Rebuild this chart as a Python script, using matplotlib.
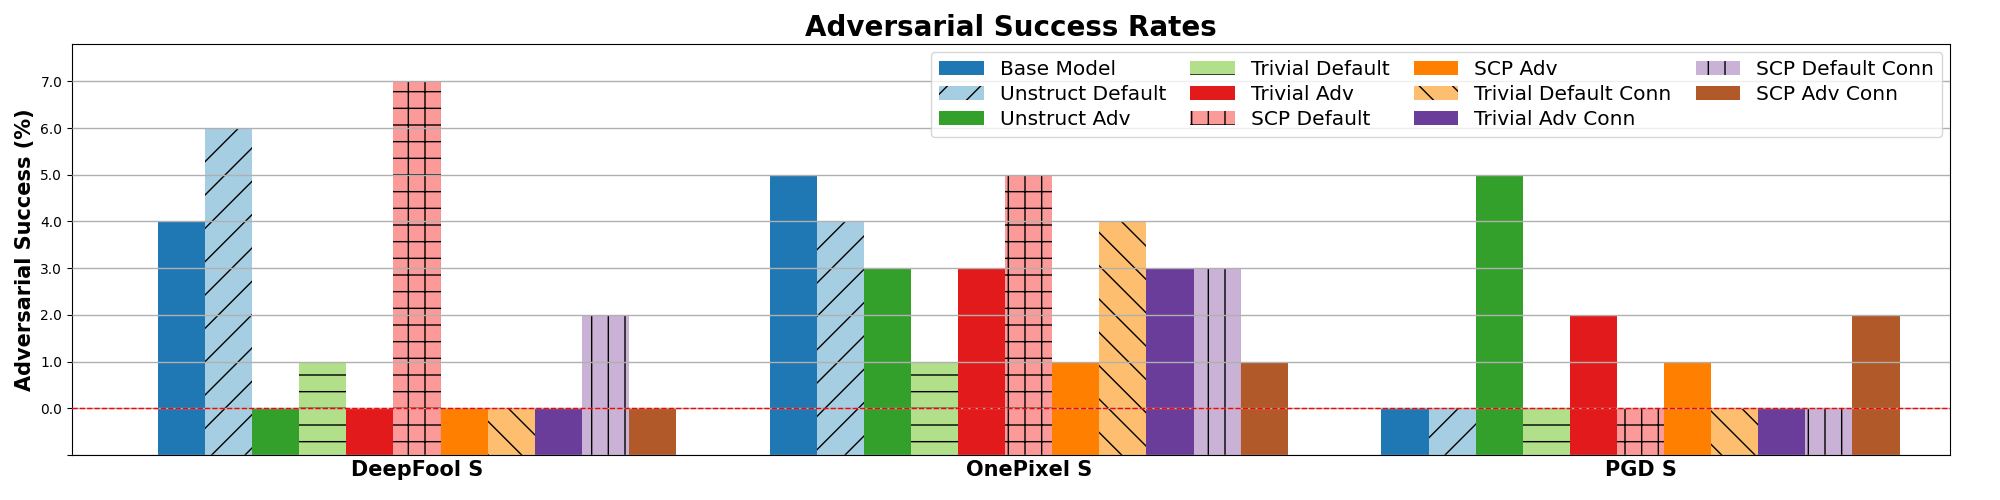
import matplotlib
matplotlib.use("Agg")
import matplotlib.pyplot as plt
import numpy as np

groups = ["DeepFool S", "OnePixel S", "PGD S"]
series = ["Base Model", "Unstruct Default", "Unstruct Adv", "Trivial Default", "Trivial Adv",
          "SCP Default", "SCP Adv", "Trivial Default Conn", "Trivial Adv Conn",
          "SCP Default Conn", "SCP Adv Conn"]
values = {
    "Base Model": [4, 5, 0],
    "Unstruct Default": [6, 4, 0],
    "Unstruct Adv": [0, 3, 5],
    "Trivial Default": [1, 1, 0],
    "Trivial Adv": [0, 3, 2],
    "SCP Default": [7, 5, 0],
    "SCP Adv": [0, 1, 1],
    "Trivial Default Conn": [0, 4, 0],
    "Trivial Adv Conn": [0, 3, 0],
    "SCP Default Conn": [2, 3, 0],
    "SCP Adv Conn": [0, 1, 2],
}
colors = ["#1f78b4", "#a6cee3", "#33a02c", "#b2df8a", "#e31a1c", "#fb9a99",
          "#ff7f00", "#fdbf6f", "#6a3d9a", "#cab2d6", "#b15928"]
hatches = ["", "/", "", "-", "", "+", "", "\\", "", "|", ""]

fig = plt.figure(figsize=(20, 5), dpi=100)
ax = fig.add_axes([0.036, 0.09, 0.939, 0.822])
x = np.arange(len(groups))
w = 0.077
base = -1
for i, s in enumerate(series):
    v = np.array(values[s], dtype=float)
    ax.bar(x + (i - 5) * w, v - base, w, bottom=base, color=colors[i],
           hatch=hatches[i], edgecolor="black", linewidth=0, label=s, zorder=1)
ax.axhline(0, color="red", linestyle="--", linewidth=1, zorder=3)
ax.set_ylim(-1, 7.8)
ax.set_xlim(-0.564, 2.506)
ax.set_yticks(np.arange(-1, 8))
ax.set_yticklabels([""] + [f"{t:.1f}" for t in range(0, 8)])
ax.yaxis.grid(True, color="#b0b0b0", linewidth=1, zorder=2)
ax.set_axisbelow(False)
ax.set_xticks(x)
ax.set_xticklabels(groups, fontsize=15, fontweight="bold")
ax.tick_params(axis="x", length=0)
ax.set_ylabel("Adversarial Success (%)", fontsize=15, fontweight="bold")
ax.set_title("Adversarial Success Rates", fontsize=20, fontweight="bold")
ax.legend(ncol=4, loc="upper right", fontsize=14.5, handlelength=2.2, columnspacing=1.2,
          borderaxespad=0.4, labelspacing=0.3)
fig.savefig("out.png")
